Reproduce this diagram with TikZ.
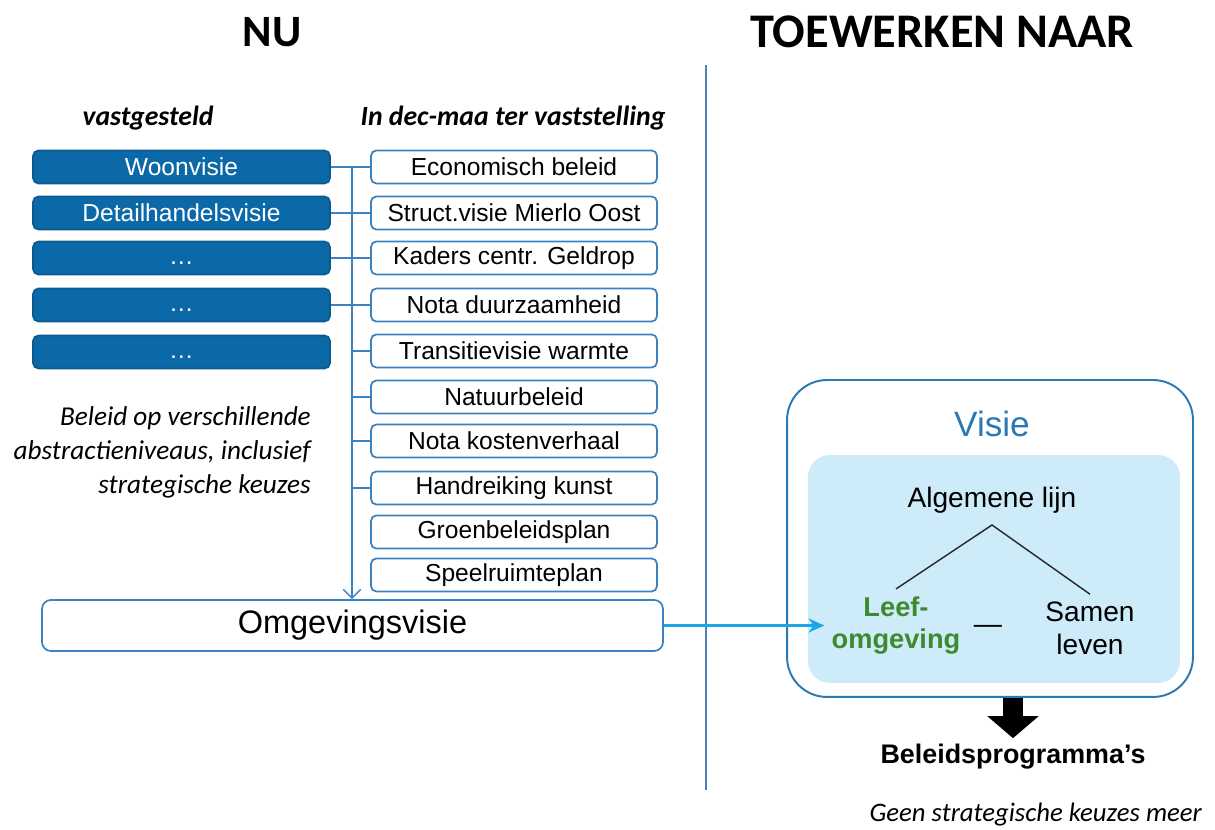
\documentclass[tikz,border=0pt]{standalone}
\usepackage{fontspec}
\setmainfont{Liberation Sans}
\newfontfamily\calfont{Carlito}
\usepackage{tikz}
\usetikzlibrary{arrows.meta, positioning}
\definecolor{vastblue}{HTML}{0B69A8}
\definecolor{vastedge}{HTML}{0A5A90}
\definecolor{lineblue}{HTML}{3A82C0}
\definecolor{splitblue}{HTML}{4A80B8}
\definecolor{arrowcyan}{HTML}{1EA5E6}
\definecolor{visieblue}{HTML}{2B78B3}
\definecolor{kernfill}{HTML}{CDEBF8}
\definecolor{leefgreen}{HTML}{3E8A2E}

\begin{document}
\begin{tikzpicture}[x=0.02cm, y=-0.02cm,
    vastbox/.style={rectangle, rounded corners=3pt, draw=vastedge, fill=vastblue, line width=0.9pt,
        minimum width=5.94cm, minimum height=0.66cm, inner sep=0pt, text=white,
        font=\fontsize{14}{16}\selectfont},
    planbox/.style={rectangle, rounded corners=3pt, draw=lineblue, fill=white, line width=1pt,
        minimum width=5.72cm, minimum height=0.66cm, inner sep=0pt,
        font=\fontsize{14}{16}\selectfont},
    link/.style={draw=lineblue, line width=0.8pt},
    head/.style={font=\calfont\bfseries\fontsize{25.5}{30}\selectfont},
    colhead/.style={font=\calfont\bfseries\itshape\fontsize{15.8}{18}\selectfont},
    note/.style={font=\calfont\itshape\fontsize{15.5}{19.3}\selectfont},
    tree/.style={font=\fontsize{16}{18.7}\selectfont, align=center, inner sep=4pt}]

    \useasboundingbox (0,0) rectangle (1215,830);

    % Titles and divider
    \node[head] (nu) at (272,32) {NU};
    \node[head, font=\calfont\bfseries\fontsize{27.5}{30}\selectfont] (naar) at (942,32) {TOEWERKEN NAAR};
    \draw[splitblue, line width=1pt] (706,65) -- (706,790);

    % Column headings
    \node[colhead] (vast) at (148,118) {vastgesteld};
    \node[colhead] (indec) at (513,118) {In dec-maa ter vaststelling};

    % Adopted policy (left)
    \node[vastbox] (woon) at (181.5,167) {Woonvisie};
    \node[vastbox] (detail) at (181.5,213) {Detailhandelsvisie};
    \node[vastbox] (dotsA) at (181.5,258) {\raisebox{-3.5pt}[0pt][0pt]{…}};
    \node[vastbox] (dotsB) at (181.5,305) {\raisebox{-3.5pt}[0pt][0pt]{…}};
    \node[vastbox] (dotsC) at (181.5,352) {\raisebox{-3.5pt}[0pt][0pt]{…}};

    % Policy to be adopted (right)
    \node[planbox] (econ) at (514,167) {Economisch beleid};
    \node[planbox] (struct) at (514,213) {Struct.visie Mierlo Oost};
    \node[planbox] (kaders) at (514,258) {Kaders centr. Geldrop};
    \node[planbox] (duurz) at (514,305) {Nota duurzaamheid};
    \node[planbox] (warmte) at (514,351) {Transitievisie warmte};
    \node[planbox] (natuur) at (514,397) {Natuurbeleid};
    \node[planbox] (kosten) at (514,441) {Nota kostenverhaal};
    \node[planbox] (kunst) at (514,488) {Handreiking kunst};
    \node[planbox] (groen) at (514,532) {Groenbeleidsplan};
    \node[planbox] (speel) at (514,575) {Speelruimteplan};

    \node[note, align=right, anchor=east] (beleid) at (317,452)
        {Beleid op verschillende\\abstractieniveaus, inclusief\\strategische keuzes};

    % Omgevingsvisie
    \node[rectangle, rounded corners=5pt, draw=lineblue, line width=1pt, minimum width=12.42cm,
        minimum height=1.02cm, inner sep=0pt, font=\fontsize{18.5}{22}\selectfont] (omg) at (352.5,625.5) {Omgevingsvisie};

    % Trunk and branches
    \coordinate (top) at (352,167);
    \draw[link] (woon) -- (econ);
    \draw[link] (detail) -- (struct);
    \draw[link] (dotsA) -- (kaders);
    \draw[link] (dotsB) -- (duurz);
    \draw[link] (top |- warmte) -- (warmte);
    \draw[link] (top |- natuur) -- (natuur);
    \draw[link] (top |- kosten) -- (kosten);
    \draw[link] (top |- kunst) -- (kunst);
    \draw[link, -{Straight Barb[length=5pt, width=10pt]}] (top) -- (top |- omg.north);

    % Visie block
    \node[rectangle, rounded corners=0.8cm, draw=visieblue, line width=1.1pt, minimum width=8.12cm,
        minimum height=6.34cm] (visie) at (990,538.5) {};
    \node[rectangle, rounded corners=0.44cm, fill=kernfill, minimum width=7.44cm,
        minimum height=4.56cm] (kern) at (994,569) {};
    \node[text=visieblue, font=\fontsize{20}{24}\selectfont] (vtitle) at (992,424) {Visie};

    \node[tree] (alg) at (992,500) {Algemene lijn};
    \coordinate (apex) at (992,525);
    \node[tree, text=leefgreen, font=\bfseries\fontsize{15.5}{18.7}\selectfont] (leef) at (896,625.5) {Leef-\\omgeving};
    \node[tree] (samen) at (1090,628) {Samen\\leven};
    \node[tree] (dash) at (988,629) {—};
    \draw[black!85, line width=0.8pt] (leef.north) -- (apex) -- (samen.north);

    \draw[arrowcyan, line width=1.3pt, -{Stealth[length=9pt, width=8pt]}] (omg.east) -- (leef.west);

    % Beleidsprogramma's
    \node[font=\bfseries\fontsize{15.3}{18}\selectfont] (prog) at (1013,757) {Beleidsprogramma’s};
    \draw[line width=0.4cm, -{Triangle[length=0.44cm, width=1.0cm]}] (prog.north |- visie.south) -- (prog.north);

    \node[note, font=\calfont\itshape\fontsize{15.2}{19}\selectfont, anchor=east] (geen) at (1208,815) {Geen strategische keuzes meer};
\end{tikzpicture}
\end{document}
